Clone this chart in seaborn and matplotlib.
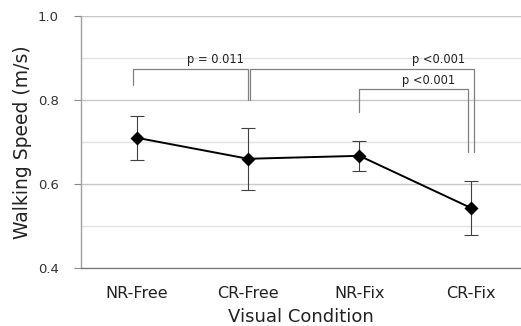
import matplotlib
matplotlib.use("Agg")
import matplotlib.pyplot as plt
import seaborn as sns
import pandas as pd

conditions = ["NR-Free", "CR-Free", "NR-Fix", "CR-Fix"]
speed_mean = [0.710, 0.660, 0.667, 0.543]
speed_err = [0.052, 0.074, 0.035, 0.064]

# significance brackets: (left idx, right idx, top y, left leg bottom, right leg bottom, label)
br_left = [0, 1, 2]
br_right = [1, 3, 3]
br_top = [0.874, 0.874, 0.826]
br_lbot = [0.836, 0.800, 0.771]
br_rbot = [0.800, 0.676, 0.676]
br_label = ["p = 0.011", "p <0.001", "p <0.001"]

sns.set_theme(style="white")
plt.rcParams['font.family'] = ['DejaVu Sans']

fig = plt.figure(figsize=(5.21, 3.26), dpi=100)
ax = fig.add_axes([0.1555, 0.178, 0.8445, 0.773])

df = pd.DataFrame({"cond": conditions, "speed": speed_mean})

ax.errorbar(range(len(conditions)), speed_mean, yerr=speed_err, fmt="none",
            ecolor="#404040", elinewidth=0.8, capsize=5, capthick=0.8, zorder=3)
sns.pointplot(data=df, x="cond", y="speed", color="black", markers="D",
              linewidth=1.4, markersize=6.5, ax=ax, zorder=4)

ax.set_ylim(0.4, 1.0)
ax.set_xlim(-0.5, 3.45)
ax.set_yticks([0.4, 0.6, 0.8, 1.0])
ax.set_yticks([0.5, 0.7, 0.9], minor=True)
ax.set_yticklabels(["0.4", "0.6", "0.8", "1.0"], fontsize=9.5, color="#333333")
ax.tick_params(axis="x", labelsize=11.5, colors="#222222", length=0, pad=13)
ax.tick_params(axis="y", which="major", left=True, length=5, width=0.8,
               color="#888888", pad=11)
ax.tick_params(axis="y", which="minor", left=False)

ax.grid(axis="y", which="major", color="#c8c8c8", linewidth=1.0, zorder=0)
ax.grid(axis="y", which="minor", color="#e2e2e2", linewidth=1.0, zorder=0)
ax.set_axisbelow(True)

for s in ["top", "right"]:
    ax.spines[s].set_visible(False)
ax.spines["left"].set_color("#a0a0a0")
ax.spines["left"].set_linewidth(1.0)
ax.spines["bottom"].set_color("#777777")
ax.spines["bottom"].set_linewidth(0.9)

ax.set_xlabel("Visual Condition", fontsize=13, color="#222222", labelpad=5)
ax.set_ylabel("Walking Speed (m/s)", fontsize=13.5, color="#222222", labelpad=4)

# brackets
offs = [(-0.03, 0.0), (0.02, 0.03), (0.0, -0.03)]
text_x = [0.71, 2.71, 2.62]
for i in range(len(br_label)):
    xl = br_left[i] + offs[i][0]
    xr = br_right[i] + offs[i][1]
    ax.plot([xl, xl, xr, xr], [br_lbot[i], br_top[i], br_top[i], br_rbot[i]],
            color="#808080", linewidth=0.9, zorder=2)
    ax.text(text_x[i], br_top[i] + 0.006, br_label[i], fontsize=8.3,
            color="#222222", ha="center", va="bottom")

fig.savefig("out.png", dpi=100)
